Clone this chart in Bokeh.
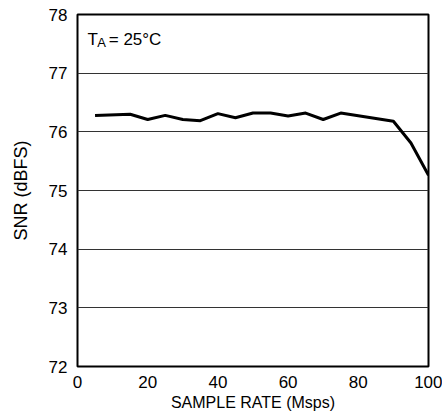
from bokeh.plotting import figure
from bokeh.models import Range1d, FixedTicker, Label
from bokeh.embed import file_html
from bokeh.resources import INLINE

# Data
sample_rate = [5, 15, 20, 25, 30, 35, 40, 45, 50, 55, 60, 65, 70, 75, 90, 95, 100]
snr = [76.28, 76.30, 76.21, 76.28, 76.21, 76.19, 76.31, 76.24, 76.32, 76.32,
       76.27, 76.32, 76.21, 76.32, 76.18, 75.81, 75.26]
x_ticks = [0, 20, 40, 60, 80, 100]
y_ticks = [72, 73, 74, 75, 76, 77, 78]

FONT = "Liberation Sans"

p = figure(width=442, height=420, output_backend="svg", toolbar_location=None,
           x_range=Range1d(0, 100), y_range=Range1d(72, 78),
           min_border_left=77, min_border_right=14, min_border_top=14,
           min_border_bottom=54)

p.line(sample_rate, snr, line_color="black", line_width=3, line_join="round")

p.xaxis.ticker = FixedTicker(ticks=x_ticks)
p.yaxis.ticker = FixedTicker(ticks=y_ticks)
p.xgrid.grid_line_color = None
p.ygrid.grid_line_color = "#333333"
p.ygrid.grid_line_width = 1

for ax in (p.xaxis, p.yaxis):
    ax.axis_line_color = None
    ax.major_tick_line_color = None
    ax.minor_tick_line_color = None
    ax.major_tick_out = 0
    ax.major_tick_in = 0
    ax.major_label_text_font = FONT
    ax.major_label_text_font_size = "17px"
    ax.major_label_text_color = "black"
    ax.axis_label_text_font = FONT
    ax.axis_label_text_font_style = "normal"
    ax.axis_label_text_color = "black"

p.xaxis.axis_label = "SAMPLE RATE (Msps)"
p.yaxis.axis_label = "SNR (dBFS)"
p.xaxis.axis_label_text_font_size = "16px"
p.yaxis.axis_label_text_font_size = "18px"
p.xaxis.major_label_standoff = 9
p.yaxis.major_label_standoff = 10
p.xaxis.axis_label_standoff = 3
p.yaxis.axis_label_standoff = 15

p.outline_line_color = "black"
p.outline_line_width = 2
p.outline_line_alpha = 1

p.add_layout(Label(x=2.85, y=77.574, text="T", text_font=FONT, text_font_size="17px",
                   text_color="black", text_baseline="alphabetic"))
p.add_layout(Label(x=5.6, y=77.52, text="A", text_font=FONT, text_font_size="13px",
                   text_color="black", text_baseline="alphabetic"))
p.add_layout(Label(x=8.9, y=77.574, text="= 25°C", text_font=FONT, text_font_size="17px",
                   text_color="black", text_baseline="alphabetic"))

open("out.html", "w").write(file_html(p, INLINE))
